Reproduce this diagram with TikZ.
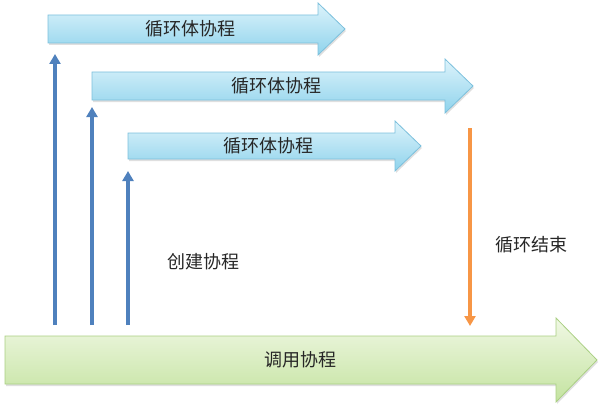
\documentclass[tikz,border=0pt]{standalone}
\usepackage{fontspec}
\newfontfamily\cjk{Noto Sans CJK SC}
\usetikzlibrary{arrows.meta,shadows}
\definecolor{bfillA}{HTML}{DDF3FB}
\definecolor{bfillB}{HTML}{8FD3EC}
\definecolor{bline}{HTML}{7CC0DC}
\definecolor{gfillA}{HTML}{F0F8E4}
\definecolor{gfillB}{HTML}{C4E3A0}
\definecolor{gline}{HTML}{A9CF82}
\definecolor{vblue}{HTML}{4F81BD}
\definecolor{vorange}{HTML}{F79646}
\begin{document}
\begin{tikzpicture}[x=1pt,y=-1pt,
  barrow/.style={draw=bline,line width=0.8pt,top color=bfillA,bottom color=bfillB,drop shadow={opacity=0.25,shadow xshift=1pt,shadow yshift=-2pt}},
  garrow/.style={draw=gline,line width=0.8pt,top color=gfillA,bottom color=gfillB,drop shadow={opacity=0.25,shadow xshift=1pt,shadow yshift=-2pt}},
  lbl/.style={font=\cjk\fontsize{18}{21}\selectfont,text=black!85},
  up/.style={draw=vblue,line width=3.2pt,-{Triangle[length=10pt,width=11pt]}},
  down/.style={draw=vorange,line width=3.2pt,-{Triangle[length=10pt,width=11pt]}}]
\useasboundingbox (0,0) rectangle (600,412);
% coroutine arrows
\path[barrow] (48,15) -- (318,15) -- (318,3) -- (345,29) -- (318,55) -- (318,43) -- (48,43) -- cycle;
\node[lbl] (c1) at (190,29) {循环体协程};
\path[barrow] (92,72) -- (445,72) -- (445,59) -- (473,86) -- (445,113) -- (445,100) -- (92,100) -- cycle;
\node[lbl] (c2) at (276,86) {循环体协程};
\path[barrow] (128,133) -- (395,133) -- (395,121) -- (421,146) -- (395,171) -- (395,159) -- (128,159) -- cycle;
\node[lbl] (c3) at (268,146) {循环体协程};
% call arrow
\path[garrow] (5,336) -- (556,336) -- (556,318) -- (597,360) -- (556,402) -- (556,384) -- (5,384) -- cycle;
\node[lbl] (call) at (300,360) {调用协程};
% endpoints
\coordinate (b1) at (55,325); \coordinate (t1) at (55,54);
\coordinate (b2) at (92,325); \coordinate (t2) at (92,107);
\coordinate (b3) at (128,325); \coordinate (t3) at (128,171);
\coordinate (o1) at (470,128); \coordinate (o2) at (470,326);
\draw[up] (b1) -- (t1);
\draw[up] (b2) -- (t2);
\draw[up] (b3) -- (t3);
\draw[down] (o1) -- (o2);
\node[lbl] (create) at (203,262) {创建协程};
\node[lbl] (end) at (531,245) {循环结束};
\end{tikzpicture}
\end{document}
